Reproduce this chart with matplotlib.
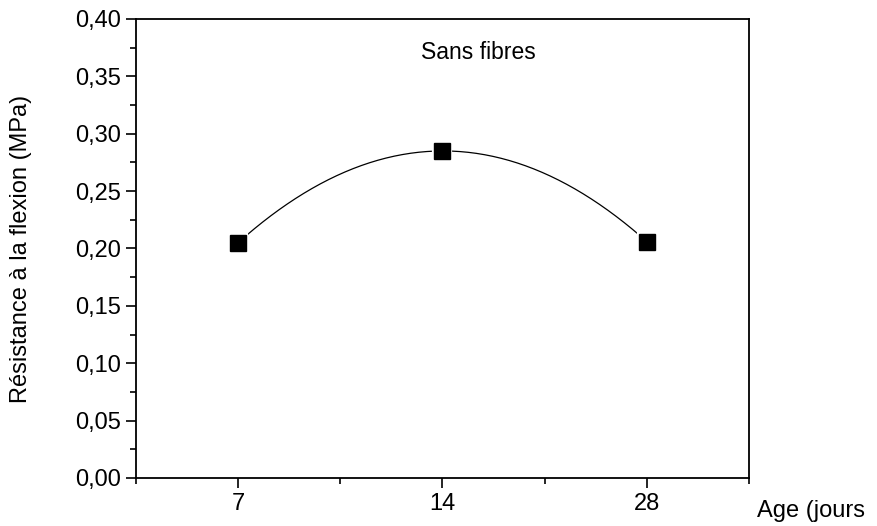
import numpy as np
import matplotlib.pyplot as plt
from matplotlib.ticker import FuncFormatter, MultipleLocator

plt.rcParams["font.family"] = ["Liberation Sans", "DejaVu Sans"]

ages = ["7", "14", "28"]
resistance = [0.205, 0.285, 0.206]

x = np.arange(1, len(ages) + 1)

# smooth curve through the three points (quadratic interpolation)
coef = np.polyfit(x, resistance, 2)
xs = np.linspace(x[0], x[-1], 200)
ys = np.polyval(coef, xs)

fig = plt.figure(figsize=(8.77, 5.26), dpi=100)
ax = fig.add_axes([0.155, 0.0913, 0.699, 0.8726])

ax.plot(xs, ys, color="black", linewidth=0.9, zorder=2)
# white halo so the curve stops short of the markers
ax.plot(x, resistance, linestyle="none", marker="s", markersize=12,
        color="black", markeredgecolor="white", markeredgewidth=3, zorder=3)
ax.plot(x, resistance, linestyle="none", marker="s", markersize=11,
        color="black", zorder=4)

ax.set_xlim(0.5, 3.5)
ax.set_ylim(0, 0.40)
ax.set_xticks(x)
ax.set_xticklabels(ages)
ax.set_xticks([0.5, 1.5, 2.5, 3.5], minor=True)
ax.yaxis.set_major_locator(MultipleLocator(0.05))
ax.yaxis.set_minor_locator(MultipleLocator(0.025))
ax.yaxis.set_major_formatter(FuncFormatter(lambda v, p: f"{v:.2f}".replace(".", ",")))

ax.tick_params(which="major", direction="out", length=7, width=1.2, labelsize=17, pad=4)
ax.tick_params(which="minor", direction="out", length=4, width=1.2)
for side in ["left", "bottom", "right", "top"]:
    ax.spines[side].set_linewidth(1.3)

fig.text(21 / 877, 0.5 * (1 - 19 / 526 + 1 - 478 / 526), "Résistance à la flexion (MPa)",
         rotation=90, ha="center", va="center", fontsize=17)
ax.text(0.558, 0.926, "Sans fibres", transform=ax.transAxes, ha="center",
        va="center", fontsize=16.5)
fig.text(757 / 877, 1 - 511 / 526, "Age (jours", fontsize=17, ha="left", va="center")

fig.savefig("out.png", dpi=100)
